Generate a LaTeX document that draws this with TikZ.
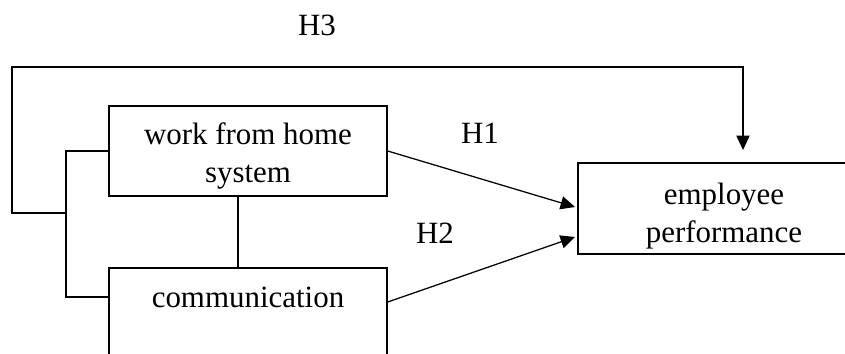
\documentclass[tikz,border=0pt]{standalone}
\usepackage{fontspec}
\setmainfont{Liberation Serif}
\usetikzlibrary{arrows.meta}
\tikzset{
  box/.style={draw, line width=1pt, align=center, inner sep=0pt},
  hyp/.style={inner sep=1pt},
}
\begin{document}
\begin{tikzpicture}[line width=0.9pt, >={Triangle[length=0.36cm,width=0.33cm]},
  font=\fontsize{22pt}{27pt}\selectfont]
  \useasboundingbox (0,0) rectangle (21.125,8.825);
  \node[box, minimum width=6.95cm, minimum height=2.25cm] (wfh) at (6.2,5.05) {\rule{0pt}{0.78cm}work from home\\system};
  \node[box, minimum width=6.95cm, minimum height=2.25cm] (comm) at (6.2,1.0) {\rule{0pt}{0.68cm}communication\\~};
  \node[box, minimum width=7.3cm, minimum height=2.275cm] (emp) at (18.1,3.61) {\rule{0pt}{0.93cm}employee\\performance};
  \node[hyp] (h1) at (12.0,5.5) {H1};
  \node[hyp] (h2) at (10.875,3.0) {H2};
  \node[hyp] (h3) at (7.925,8.2) {H3};
  \coordinate (bt) at (1.65,5.05);
  \coordinate (bb) at (1.65,1.4);
  \coordinate (j) at (1.65,3.5);
  \coordinate (lc) at (0.3,7.15);
  \coordinate (h3end) at (18.575,5.075);
  % bracket joining both predictors
  \draw (wfh.west) -- (bt) -- (bb) -- (bb -| comm.west);
  \draw ([xshift=-0.25cm]wfh.south) -- ([xshift=-0.25cm]wfh.south |- comm.north);
  % hypotheses
  \draw [->] (wfh.east) -- (14.375,3.65);
  \draw [->] (comm.east |- bb) ++(0,-0.125) -- (14.375,2.9);
  \draw [->] (j) -| (lc) -| (h3end);
\end{tikzpicture}
\end{document}
